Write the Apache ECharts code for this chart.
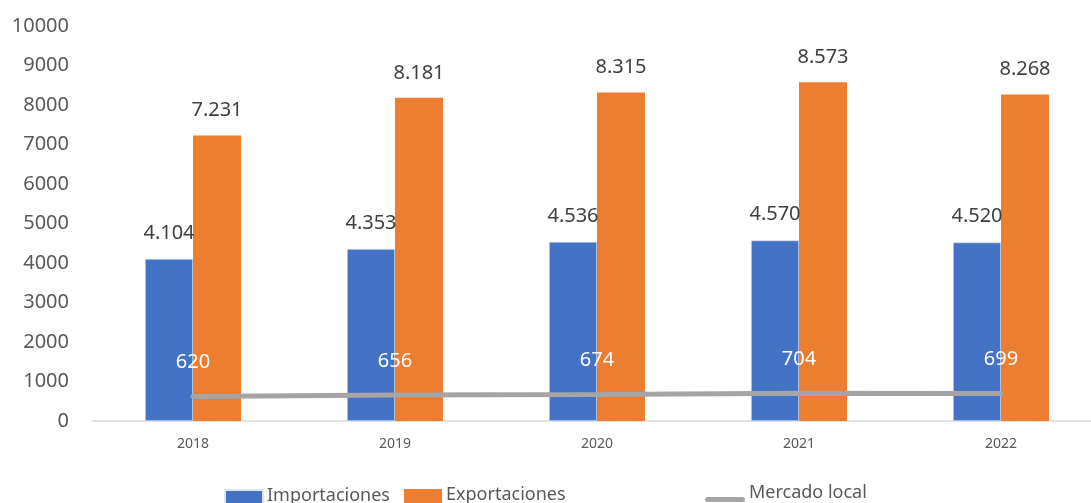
<!DOCTYPE html>
<html>
<head>
<meta charset="utf-8">
<script src="https://cdn.jsdelivr.net/npm/echarts@6/dist/echarts.min.js"></script>
<style>
  html, body { margin: 0; padding: 0; background: #fff; overflow: hidden; }
  #chart { width: 1112px; height: 503px; }
</style>
</head>
<body>
<div id="chart"></div>
<script>
const years = ['2018', '2019', '2020', '2021', '2022'];
const importaciones = [4104, 4353, 4536, 4570, 4520];
const exportaciones = [7231, 8181, 8315, 8573, 8268];
const mercadoLocal = [620, 656, 674, 704, 699];

const font = '"Noto Sans", sans-serif';
const fmt = p => String(p.value).replace(/\B(?=(\d{3})+(?!\d))/g, '.');
// icons drawn in the lower part of the icon box (empty first subpath pins the top)
const lowRect = 'path://M0,0 L0,0 L0,0 Z M0,8 L38,8 L38,28 L0,28 Z';
const lowLine = 'path://M0,0 L0,0 L0,0 Z M2.5,13 L37.5,13 A2.5,2.5 0 0 1 37.5,18 L2.5,18 A2.5,2.5 0 0 1 2.5,13 Z';

// one legend per item so each sits where the reference puts it
function leg(name, left, top, icon, w) {
  return {
    top: top, left: left,
    icon: icon, itemWidth: w, itemHeight: 28, itemGap: 4,
    textStyle: { fontSize: 18, color: '#595959', fontFamily: font, padding: [0, 0, 0, -1] },
    data: [name]
  };
}

echarts.init(document.getElementById('chart')).setOption({
  animation: false,
  textStyle: { fontFamily: font },
  // the reference plot runs past the right edge of the picture
  grid: { left: 92, top: 26, width: 1010, height: 395 },
  legend: [
    leg('Importaciones', 219, 476, lowRect, 38),
    leg('Exportaciones', 399, 476, lowRect, 38),
    leg('Mercado local', 700, 479, lowLine, 40)
  ],
  xAxis: {
    type: 'category',
    data: years,
    axisLine: { lineStyle: { color: '#d9d9d9', width: 1.5 } },
    axisTick: { show: false },
    axisLabel: { color: '#595959', fontSize: 14, margin: 16 }
  },
  yAxis: {
    type: 'value',
    min: 0,
    max: 10000,
    interval: 1000,
    splitLine: { show: false },
    axisLine: { show: false },
    axisTick: { show: false },
    axisLabel: { color: '#595959', fontSize: 20, margin: 23, formatter: v => String(v) }
  },
  series: [
    {
      name: 'Importaciones',
      type: 'bar',
      data: importaciones,
      barWidth: 48,
      barGap: '0%',
      itemStyle: { color: '#4472c4', borderColor: '#dfe6f3', borderWidth: 0.6 },
      label: { show: true, position: 'top', distance: 16, fontSize: 20, color: '#404040', formatter: fmt }
    },
    {
      name: 'Exportaciones',
      type: 'bar',
      data: exportaciones,
      barWidth: 48,
      itemStyle: { color: '#ed7d31' },
      label: { show: true, position: 'top', distance: 15, fontSize: 20, color: '#404040', formatter: fmt }
    },
    {
      name: 'Mercado local',
      type: 'line',
      data: mercadoLocal,
      symbol: 'circle',
      symbolSize: 0,
      lineStyle: { color: '#a5a5a5', width: 5, cap: 'round' },
      itemStyle: { color: '#a5a5a5' },
      label: { show: true, position: 'top', distance: 24, fontSize: 20, color: '#ffffff', formatter: fmt },
      z: 5
    }
  ]
});
</script>
</body>
</html>
